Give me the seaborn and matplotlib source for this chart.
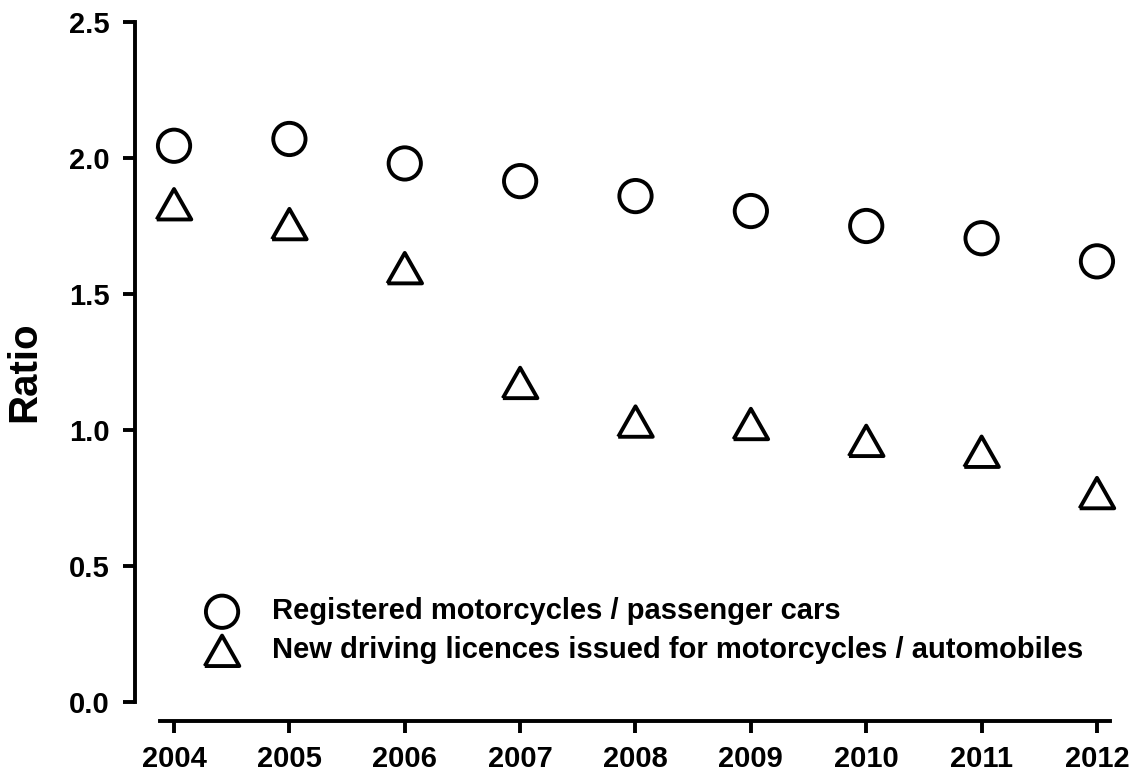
import matplotlib
matplotlib.use("Agg")
import matplotlib.pyplot as plt
import seaborn as sns
import pandas as pd

# data
years = [2004, 2005, 2006, 2007, 2008, 2009, 2010, 2011, 2012]
moto_cars = [2.045, 2.07, 1.98, 1.915, 1.86, 1.805, 1.75, 1.705, 1.62]
licence_ratio = [1.83, 1.757, 1.595, 1.173, 1.031, 1.022, 0.96, 0.92, 0.768]
labels = ['Registered motorcycles / passenger cars',
          'New driving licences issued for motorcycles / automobiles']
yticks = [0.0, 0.5, 1.0, 1.5, 2.0, 2.5]

df1 = pd.DataFrame({'year': years, 'ratio': moto_cars})
df2 = pd.DataFrame({'year': years, 'ratio': licence_ratio})

sns.set_style('ticks')
plt.rcParams['font.family'] = ['Liberation Sans', 'DejaVu Sans']
plt.rcParams['font.weight'] = 'bold'
plt.rcParams['text.color'] = 'black'
plt.rcParams['axes.labelcolor'] = 'black'

fig = plt.figure(figsize=(11.3, 7.78), dpi=100)
ax = fig.add_axes([0.1195, 0.0733, 0.9823 - 0.1195, 0.9717 - 0.0733])

lw = 2.8
tri = [(-1, -0.88), (1, -0.88), (0, 0.88), (-1, -0.88)]
sns.scatterplot(data=df1, x='year', y='ratio', ax=ax, marker='o', s=540,
                color='black', facecolors='none', edgecolors='black',
                linewidth=lw, legend=False, label=labels[0], zorder=3,
                clip_on=False)
sns.scatterplot(data=df2, x='year', y='ratio', ax=ax, marker=tri, s=620,
                color='black', facecolors='none', edgecolors='black',
                linewidth=lw, legend=False, label=labels[1], zorder=3,
                clip_on=False)

ax.set_xlim(2003.662, 2012.113)
ax.set_ylim(-0.0699, 2.5)
ax.spines['top'].set_visible(False)
ax.spines['right'].set_visible(False)
ax.spines['left'].set_bounds(0, 2.5)
ax.spines['bottom'].set_bounds(2003.879, 2012.113)
for s in ['left', 'bottom']:
    ax.spines[s].set_linewidth(lw)
    ax.spines[s].set_color('black')

ax.set_xticks(years)
ax.set_xticklabels([str(y) for y in years])
ax.set_yticks(yticks)
ax.set_yticklabels(['%.1f' % v for v in yticks])
ax.tick_params(axis='both', length=8.5, width=lw, labelsize=21,
               colors='black', labelcolor='black')
ax.tick_params(axis='y', pad=10)
ax.tick_params(axis='x', pad=9)

ax.set_xlabel('')
ax.set_ylabel('Ratio', fontsize=29, fontweight='bold', labelpad=18)

handles = ax.collections[:2]
leg = ax.legend(handles, labels, loc='center left',
                bbox_to_anchor=(0.0743, 0.1288), frameon=False, fontsize=21,
                handlelength=1.0, handletextpad=1.22, labelspacing=0.38,
                borderpad=0, borderaxespad=0)
for t in leg.get_texts():
    t.set_fontweight('bold')
    t.set_color('black')

fig.savefig('out.png', dpi=100)
